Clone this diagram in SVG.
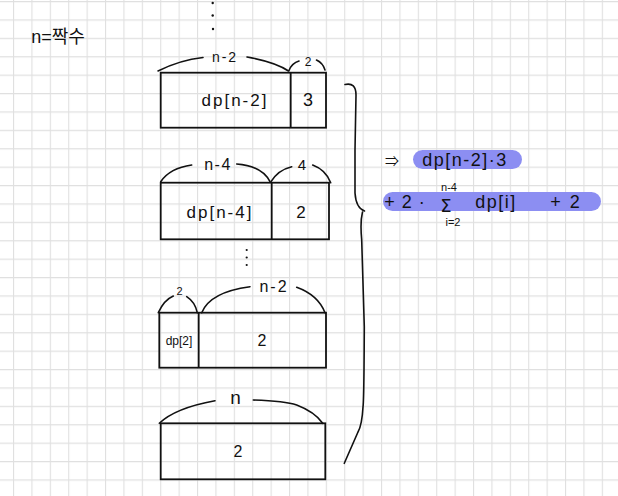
<svg xmlns="http://www.w3.org/2000/svg" width="618" height="496" viewBox="0 0 618 496">
<style>
.ink{fill:none;stroke:#111;stroke-width:1.6;stroke-linecap:round;stroke-linejoin:round}
.box{fill:none;stroke:#111;stroke-width:1.8}
.t{font-family:"Liberation Sans","Noto Sans CJK KR",sans-serif;fill:#111;text-anchor:middle}
.hl{fill:#8c8ef2}
</style>
<defs>
<pattern id="grid" x="13" y="1" width="18.4" height="18.4" patternUnits="userSpaceOnUse">
<path d="M0.5 0V18.4M0 0.5H18.4" fill="none" stroke="#e0e0e0" stroke-width="1.2"/>
</pattern>
</defs>
<rect width="618" height="496" fill="#fff"/>
<rect width="618" height="496" fill="url(#grid)"/>

<g id="title">
<text class="t" x="58" y="43" font-size="18">n=짝수</text>
</g>

<g id="dots-top" fill="#111">
<circle cx="212.7" cy="3" r="1.2"/>
<circle cx="212.7" cy="15.5" r="1.2"/>
<circle cx="213" cy="29" r="1.2"/>
</g>

<g id="block1">
<rect class="box" x="160.7" y="72.7" width="165.3" height="55"/>
<line class="box" x1="290.7" y1="72.7" x2="290.7" y2="127.7"/>
<path class="ink" d="M158 71 Q180 60 203 57.5"/>
<path class="ink" d="M247 57 Q275 62 288.5 71"/>
<path class="ink" d="M289 70.5 Q292 63 299 61"/>
<path class="ink" d="M316.5 60 Q323 63 325 70"/>
<text class="t" x="225" y="62" font-size="14" letter-spacing="2">n-2</text>
<text class="t" x="308" y="66" font-size="12">2</text>
<text class="t" x="235" y="106" font-size="17" letter-spacing="2">dp[n-2]</text>
<text class="t" x="308" y="106" font-size="18">3</text>
</g>

<g id="block2">
<rect class="box" x="160.7" y="182.7" width="168.3" height="56.6"/>
<line class="box" x1="271.7" y1="182.7" x2="271.7" y2="239.3"/>
<path class="ink" d="M160.7 181.7 Q170 168 191.7 165"/>
<path class="ink" d="M236.7 164 Q262 166 270 181.7"/>
<path class="ink" d="M271 181.7 Q278 170 291.7 166.7"/>
<path class="ink" d="M312.7 165 Q326 170 330.7 182.7"/>
<text class="t" x="218" y="170" font-size="16" letter-spacing="1.5">n-4</text>
<text class="t" x="302" y="170" font-size="15">4</text>
<text class="t" x="220" y="218" font-size="17" letter-spacing="2">dp[n-4]</text>
<text class="t" x="301" y="218" font-size="17">2</text>
</g>

<g id="dots-mid" fill="#111">
<circle cx="246.7" cy="250" r="1.1"/>
<circle cx="246.7" cy="257.5" r="1.1"/>
<circle cx="246.7" cy="265" r="1.1"/>
</g>

<g id="block3">
<rect class="box" x="159.3" y="312.7" width="166.7" height="55"/>
<line class="box" x1="198.7" y1="312.7" x2="198.7" y2="367.7"/>
<path class="ink" d="M158.3 312.7 Q164 300 173.3 296"/>
<path class="ink" d="M186.7 296.7 Q195 302 197.3 312.7"/>
<path class="ink" d="M201.7 312.7 Q210 292 250 286.7"/>
<path class="ink" d="M296.7 287.3 Q318 295 325 312.7"/>
<text class="t" x="179.5" y="295" font-size="11">2</text>
<text class="t" x="274" y="292" font-size="16" letter-spacing="2">n-2</text>
<text class="t" x="179" y="345" font-size="12">dp[2]</text>
<text class="t" x="262" y="346" font-size="16">2</text>
</g>

<g id="block4">
<rect class="box" x="160.7" y="423.3" width="164.6" height="56"/>
<path class="ink" d="M159.3 423.3 Q175 408 215 400.7"/>
<path class="ink" d="M253.3 400 Q285 401 296.7 405 Q315 412 322.7 423.3"/>
<text class="t" x="235.5" y="404" font-size="19">n</text>
<text class="t" x="238" y="457" font-size="16">2</text>
</g>

<g id="connectors">
<path class="ink" d="M345 84.5 Q356 82 356 95 L355 150 L355 193 Q356 208 364.5 211 M362.5 212 Q360 222 361.7 240 L364.3 326.7 Q364 400 363 407 Q362 425 358 432 L344.3 463.3"/>
</g>

<g id="formula">
<rect class="hl" x="413" y="150" width="109" height="19" rx="9.5"/>
<rect class="hl" x="383" y="192" width="218" height="19" rx="9.5"/>
<text class="t" x="392" y="166" font-size="14">⇒</text>
<text class="t" x="465" y="166" font-size="18" letter-spacing="1.5">dp[n-2]·3</text>
<text class="t" x="405" y="208" font-size="18" letter-spacing="1">+ 2 ·</text>
<text x="446" y="212" font-size="18" font-family="'DejaVu Sans', sans-serif" fill="#111" text-anchor="middle">&#931;</text>
<text class="t" x="449" y="191" font-size="11">n-4</text>
<text class="t" x="453" y="226" font-size="11">i=2</text>
<text class="t" x="496" y="208" font-size="18" letter-spacing="1.5">dp[i]</text>
<text class="t" x="565" y="208" font-size="18" word-spacing="4">+ 2</text>
</g>
</svg>
